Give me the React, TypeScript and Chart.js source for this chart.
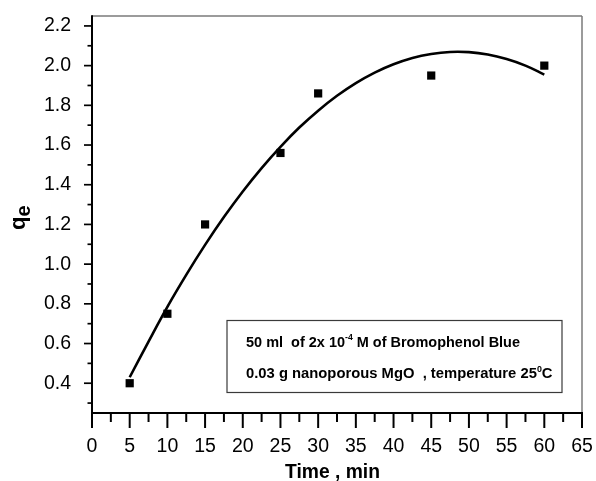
import React, { useEffect, useRef } from 'react';
import { Chart, registerables } from 'chart.js';

Chart.register(...registerables);

// Measured adsorption points
const timeMin = [5, 10, 15, 25, 30, 45, 60];
const qeValues = [0.40, 0.75, 1.20, 1.56, 1.86, 1.95, 2.00];

// Fitted curve
const fitTime = [5, 7.5, 10, 12.5, 15, 17.5, 20, 22.5, 25, 27.5, 30, 32.5, 35, 37.5, 40, 42.5, 45, 47.5, 50, 52.5, 55, 57.5, 60];
const fitQe = [0.43, 0.61, 0.785, 0.946, 1.097, 1.237, 1.366, 1.484, 1.591, 1.688, 1.773, 1.848, 1.912, 1.965, 2.007, 2.039, 2.059, 2.069, 2.068, 2.056, 2.033, 2.0, 1.955];

// Axis ticks
const xMajorTicks = [0, 5, 10, 15, 20, 25, 30, 35, 40, 45, 50, 55, 60, 65];
const xMinorTicks = [2.5, 7.5, 12.5, 17.5, 22.5, 27.5, 32.5, 37.5, 42.5, 47.5, 52.5, 57.5, 62.5];
const yMajorTicks = [0.4, 0.6, 0.8, 1.0, 1.2, 1.4, 1.6, 1.8, 2.0, 2.2];
const yMinorTicks = [0.3, 0.5, 0.7, 0.9, 1.1, 1.3, 1.5, 1.7, 1.9, 2.1];

const xTitle = 'Time , min';
const yTitleMain = 'q';
const yTitleSub = 'e';

type Seg = { t: string; sup?: boolean };
const noteLine1: Seg[] = [{ t: '50 ml  of 2x 10' }, { t: '-4', sup: true }, { t: ' M of Bromophenol Blue' }];
const noteLine2: Seg[] = [{ t: '0.03 g nanoporous MgO  , temperature 25' }, { t: '0', sup: true }, { t: 'C' }];

const FONT = '"Liberation Sans", Arial, Helvetica, sans-serif';

function drawRich(ctx: CanvasRenderingContext2D, segs: Seg[], x: number, y: number, targetWidth: number, size: number) {
  const supSize = Math.round(size * 0.62);
  let natural = 0;
  segs.forEach((s) => {
    ctx.font = `bold ${s.sup ? supSize : size}px ${FONT}`;
    natural += ctx.measureText(s.t).width;
  });
  const sx = targetWidth / natural;
  ctx.save();
  ctx.translate(x, y);
  ctx.scale(sx, 1);
  let cx = 0;
  ctx.textBaseline = 'alphabetic';
  ctx.textAlign = 'left';
  segs.forEach((s) => {
    ctx.font = `bold ${s.sup ? supSize : size}px ${FONT}`;
    ctx.fillText(s.t, cx, s.sup ? -size * 0.42 : 0);
    cx += ctx.measureText(s.t).width;
  });
  ctx.restore();
}

const decorPlugin = {
  id: 'decor',
  afterDraw(chart: any) {
    const { ctx, chartArea } = chart;
    const { left, top, right, bottom } = chartArea;
    const xs = chart.scales.x;
    const ys = chart.scales.y;
    const line = (x1: number, y1: number, x2: number, y2: number) => {
      ctx.beginPath();
      ctx.moveTo(x1, y1);
      ctx.lineTo(x2, y2);
      ctx.stroke();
    };
    ctx.save();
    // top/right frame
    ctx.strokeStyle = '#7a7a7a';
    ctx.lineWidth = 1.5;
    line(left, top, right, top);
    line(right, top, right, bottom);
    // left/bottom axes
    ctx.strokeStyle = '#000';
    ctx.lineWidth = 2;
    line(left, top - 0.75, left, bottom + 1);
    line(left - 1, bottom, right + 1, bottom);
    // x ticks
    xMajorTicks.forEach((v) => {
      const p = xs.getPixelForValue(v);
      line(p, bottom, p, bottom + 15);
    });
    xMinorTicks.forEach((v) => {
      const p = xs.getPixelForValue(v);
      line(p, bottom, p, bottom + 9);
    });
    // y ticks
    ctx.lineWidth = 1.7;
    yMajorTicks.forEach((v) => {
      const p = ys.getPixelForValue(v);
      line(left - 8, p, left, p);
    });
    yMinorTicks.forEach((v) => {
      const p = ys.getPixelForValue(v);
      line(left - 4.5, p, left, p);
    });

    // axis titles
    ctx.fillStyle = '#000';
    ctx.textBaseline = 'alphabetic';
    ctx.textAlign = 'center';
    ctx.font = `bold 20px ${FONT}`;
    ctx.save();
    const tw = ctx.measureText(xTitle).width;
    ctx.translate((left + right) / 2 - 4.5, 478);
    ctx.scale(95 / tw, 1);
    ctx.fillText(xTitle, 0, 0);
    ctx.restore();

    ctx.save();
    ctx.translate(25, 230);
    ctx.rotate(-Math.PI / 2);
    ctx.textAlign = 'left';
    ctx.font = `bold 22px ${FONT}`;
    ctx.fillText(yTitleMain, 0, 0);
    const qw = ctx.measureText(yTitleMain).width;
    ctx.font = `bold 20px ${FONT}`;
    ctx.fillText(yTitleSub, qw, 5);
    ctx.restore();

    // note box
    ctx.fillStyle = '#fff';
    ctx.fillRect(227, 320.5, 335, 72);
    ctx.strokeStyle = '#3a3a3a';
    ctx.lineWidth = 1.2;
    ctx.strokeRect(227, 320.5, 335, 72);
    ctx.fillStyle = '#000';
    drawRich(ctx, noteLine1, 246, 346.7, 274, 15);
    drawRich(ctx, noteLine2, 246, 378.3, 306.5, 15);
    ctx.restore();
  },
};

export default function App() {
  const ref = useRef<HTMLCanvasElement | null>(null);
  useEffect(() => {
    if (!ref.current) return;
    const chart = new Chart(ref.current, {
      type: 'scatter',
      data: {
        datasets: [
          {
            type: 'line',
            label: 'fit',
            data: fitTime.map((t, i) => ({ x: t, y: fitQe[i] })),
            borderColor: '#000',
            borderWidth: 2.6,
            pointRadius: 0,
            tension: 0.4,
            fill: false,
            showLine: true,
          } as any,
          {
            type: 'scatter',
            label: 'qe',
            data: timeMin.map((t, i) => ({ x: t, y: qeValues[i] })),
            pointStyle: 'rect',
            pointRadius: 5.8,
            backgroundColor: '#000',
            borderColor: '#000',
            borderWidth: 0,
          } as any,
        ],
      },
      options: {
        animation: false,
        responsive: false,
        devicePixelRatio: 1,
        layout: { padding: { top: 16, right: 14, left: 0, bottom: 0 } },
        plugins: { legend: { display: false }, tooltip: { enabled: false } },
        scales: {
          x: {
            type: 'linear',
            min: 0,
            max: 65,
            grid: { display: false },
            border: { display: false },
            ticks: {
              color: '#000',
              font: { family: FONT, size: 19.5 },
              padding: 14,
              maxRotation: 0,
              autoSkip: false,
              callback: (v: any) => String(v),
            },
            afterBuildTicks: (s: any) => {
              s.ticks = xMajorTicks.map((value) => ({ value }));
            },
            afterFit: (s: any) => {
              s.height = 68;
              s.paddingLeft = 0;
              s.paddingRight = 0;
              s.paddingTop = 0;
              s.paddingBottom = 0;
            },
          },
          y: {
            type: 'linear',
            min: 0.25,
            max: 2.25,
            grid: { display: false },
            border: { display: false },
            ticks: {
              color: '#000',
              font: { family: FONT, size: 19.5 },
              padding: 13,
              autoSkip: false,
              callback: (v: any) => Number(v).toFixed(1),
            },
            afterBuildTicks: (s: any) => {
              s.ticks = yMajorTicks.map((value) => ({ value }));
            },
            afterFit: (s: any) => {
              s.width = 92;
              s.paddingLeft = 0;
              s.paddingRight = 0;
              s.paddingTop = 0;
              s.paddingBottom = 0;
            },
          },
        },
      },
      plugins: [decorPlugin],
    });
    return () => chart.destroy();
  }, []);
  return (
    <div style={{ position: 'fixed', left: 0, top: 0, width: 596, height: 481, background: '#fff' }}>
      <canvas ref={ref} width={596} height={481} style={{ display: 'block' }} />
    </div>
  );
}
